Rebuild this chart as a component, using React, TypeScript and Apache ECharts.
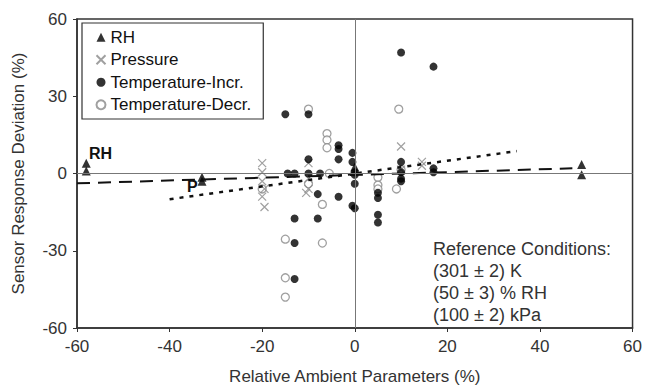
import React, { useEffect, useRef } from "react";
import * as echarts from "echarts";

const rhPoints: [number, number][] = [
  [-58, 1], [-58, 4], [-33, -1.5], [-33, -3], [0, 2.5], [49, 3.5], [49, -0.5],
];
const pressurePoints: [number, number][] = [
  [-20, 4], [-20, 0.5], [-20, -3], [-19.5, -6], [-20, -9], [-19.5, -13],
  [-10, 4], [-10, -2], [-10, -6], [-10.5, -7.5],
  [10, 10.5], [10, 1.5], [14.5, 4.5], [14.5, 3],
];
const tempIncrPoints: [number, number][] = [
  [-15, 23], [-10, 23], [-10, 5.5], [-3.5, 11], [-3.5, 9.5], [-3.5, 5.5],
  [-0.5, 8], [-0.5, 4.5], [0, 0.5], [0, -0.5], [0, -4],
  [-14.5, 0], [-13, 0], [-10, 0], [-7.5, 0],
  [-8, -8], [-3.5, -9], [-0.5, -12.5], [0, -13.5],
  [-13, -17.5], [-8, -17.5], [-13, -27], [-13, -41],
  [5, -7.5], [5, -9.5], [5, -16], [5, -19],
  [10, 47], [17, 41.5], [10, 4.5], [10, 0.5], [10, -2], [10, -3], [17, 2], [17, 0.5],
];
const tempDecrPoints: [number, number][] = [
  [-10, 25], [-6, 15.5], [-6, 13], [-6, 10], [-5.5, 0], [-10, -4], [-20, -6],
  [-7, -12], [-15, -25.5], [-7, -27], [-15, -40.5], [-15, -48],
  [5, -1.5], [5, -4.5], [5, -6], [9, -6], [10, 1.5], [9.5, 25],
];
const rhTrend: [number, number][] = [[-60, -3.8], [47, 2.0]];
const pTrend: [number, number][] = [[-40, -10], [35, 8.7]];
const xTicks = [-60, 60, 20];
const yTicks = [-60, 60, 30];
const refLines = [
  "Reference Conditions:",
  "(301 ± 2) K",
  "(50 ± 3) % RH",
  "(100 ± 2) kPa",
];

const FONT = "Liberation Sans, Arial, sans-serif";
const TXT = "#333";

export default function App() {
  const ref = useRef<HTMLDivElement>(null);
  useEffect(() => {
    document.body.style.margin = "0";
    if (!ref.current) return;
    const chart = echarts.init(ref.current, null, { renderer: "svg" });
    chart.setOption({
      animation: false,
      textStyle: { fontFamily: FONT },
      grid: {
        left: 77, right: 12, top: 19, bottom: 63,
        show: true, borderColor: "#333", borderWidth: 1.5,
      },
      legend: {
        orient: "vertical",
        left: 82, top: 23,
        padding: [5, 12, 5, 12],
        borderColor: "#333", borderWidth: 1.2,
        backgroundColor: "#fff",
        itemWidth: 9, itemHeight: 9, itemGap: 4,
        textStyle: { fontSize: 17, color: "#111", fontFamily: FONT, lineHeight: 18.5 },
        data: ["RH", "Pressure", "Temperature-Incr.", "Temperature-Decr."],
      },
      xAxis: {
        type: "value",
        min: xTicks[0], max: xTicks[1], interval: xTicks[2],
        name: "Relative Ambient Parameters (%)",
        nameLocation: "middle", nameGap: 40,
        nameTextStyle: { fontSize: 17, color: TXT, fontFamily: FONT },
        axisLine: { onZero: false, lineStyle: { color: "#333", width: 1.5 } },
        axisTick: { show: true, length: 4, lineStyle: { color: "#333" } },
        axisLabel: { fontSize: 17, color: TXT, margin: 10, fontFamily: FONT },
        splitLine: { show: false },
      },
      yAxis: {
        type: "value",
        min: yTicks[0], max: yTicks[1], interval: yTicks[2],
        name: "Sensor Response Deviation (%)",
        nameLocation: "middle", nameGap: 50,
        nameTextStyle: { fontSize: 17, color: TXT, fontFamily: FONT },
        axisLine: { onZero: false, lineStyle: { color: "#333", width: 1.5 } },
        axisTick: { show: true, length: 4, lineStyle: { color: "#333" } },
        axisLabel: { fontSize: 17, color: TXT, margin: 10, fontFamily: FONT },
        splitLine: { show: false },
      },
      series: [
        {
          name: "zero", type: "line", data: [], silent: true,
          markLine: {
            silent: true, symbol: "none", label: { show: false },
            lineStyle: { color: "#777", width: 1, type: "solid" },
            data: [{ xAxis: 0 }, { yAxis: 0 }],
          },
        },
        {
          name: "rhTrend", type: "line", data: rhTrend, symbol: "none", silent: true,
          lineStyle: { color: "#111", width: 2, type: [13, 8] },
        },
        {
          name: "pTrend", type: "line", data: pTrend, symbol: "none", silent: true,
          lineStyle: { color: "#111", width: 2.5, type: [4, 6] },
        },
        {
          name: "Temperature-Decr.", type: "scatter", data: tempDecrPoints,
          symbol: "circle", symbolSize: 8,
          itemStyle: { color: "#fff", borderColor: "#888", borderWidth: 1.3 },
        },
        {
          name: "Pressure", type: "scatter", data: pressurePoints,
          symbol: "path://M0,0L10,10M10,0L0,10", symbolSize: 8,
          itemStyle: { color: "none", borderColor: "#888", borderWidth: 1.2 },
        },
        {
          name: "Temperature-Incr.", type: "scatter", data: tempIncrPoints,
          symbol: "circle", symbolSize: 8,
          itemStyle: { color: "#000" },
        },
        {
          name: "RH", type: "scatter", data: rhPoints,
          symbol: "triangle", symbolSize: [9, 9],
          itemStyle: { color: "#000" },
        },
      ],
      graphic: [
        {
          type: "text", left: 89, top: 145,
          style: { text: "RH", fontSize: 16, fontWeight: "bold", fill: "#111", fontFamily: FONT },
        },
        {
          type: "text", left: 187, top: 178,
          style: { text: "P", fontSize: 16, fontWeight: "bold", fill: "#111", fontFamily: FONT },
        },
        ...refLines.map((t, i) => ({
          type: "text", left: 433, top: 240 + i * 22,
          style: { text: t, fontSize: 18, fill: TXT, fontFamily: FONT },
        })),
      ],
    });
    return () => chart.dispose();
  }, []);
  return <div ref={ref} style={{ width: 645, height: 391 }} />;
}
